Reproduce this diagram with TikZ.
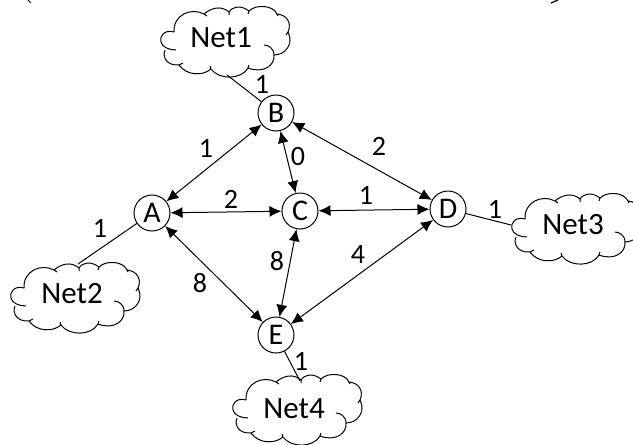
\documentclass[tikz,border=0pt]{standalone}
\usepackage{fontspec}
\setmainfont{Carlito}
\usetikzlibrary{arrows.meta}
\tikzset{
  router/.style={draw=black,circle,line width=1pt,minimum size=36pt,inner sep=0pt,font=\fontsize{30}{32}\selectfont},
  netname/.style={inner sep=0pt,font=\fontsize{31}{34}\selectfont},
  cost/.style={inner sep=0pt,font=\fontsize{28}{30}\selectfont},
  duplex/.style={line width=1pt,{Latex[length=12pt,width=11pt]}-{Latex[length=12pt,width=11pt]}},
  stub/.style={line width=1pt},
  netcloud/.pic={
    \draw[line width=1pt,line join=round]
      (15,45) .. controls (8,45) and (1,42) .. (0,37) .. controls (-2,32) and (3,24) .. (13,27)
      .. controls (12,10) and (30,2) .. (43,9) .. controls (50,3) and (60,0) .. (68,7)
      .. controls (72,1) and (80,0) .. (88,6) .. controls (95,-1) and (112,0) .. (116,9)
      .. controls (126,10) and (131,18) .. (127,27) .. controls (133,38) and (125,50) .. (113,50)
      .. controls (114,60) and (103,69) .. (87,63) .. controls (80,75) and (58,75) .. (50,64)
      .. controls (42,71) and (26,71) .. (18,60) .. controls (6,61) and (1,52) .. (4,45);
    \draw[line width=1pt] (113,50) .. controls (113,43) and (107,40) .. (103,40);
    \draw[line width=1pt] (87,63) -- (88,60) (50,64) -- (49,61) (18,60) -- (22,58)
      (127,27) -- (125,30) (116,9) -- (117,11) (88,6) -- (87,9) (68,7) -- (68,10) (43,9) -- (46,11);
  }
}
\begin{document}
\begin{tikzpicture}[x=1pt,y=-1pt]
\useasboundingbox (0,0) rectangle (633,445);
\clip (0,0) rectangle (633,445);
% fragments at the top edge
\draw[line width=1pt] (28,0) -- (31,3);
\draw[line width=1.2pt] (551,3) -- (558,0);
% clouds
\pic at (161,5) {netcloud};
\pic at (11,261) {netcloud};
\pic at (512,192) {netcloud};
\pic at (233,373) {netcloud};
\node[netname] (net1) at (221,38) {Net1};
\node[netname] (net2) at (72,294) {Net2};
\node[netname] (net3) at (573,225) {Net3};
\node[netname] (net4) at (294,409) {Net4};
\coordinate (p1) at (227,75);
\coordinate (p2) at (78,264);
\coordinate (p3) at (511,225);
\coordinate (p4) at (300,381);
% routers
\node[router] (A) at (152,213) {A};
\node[router] (B) at (276,113) {B};
\node[router] (C) at (300,211) {C};
\node[router] (D) at (448,209) {D};
\node[router] (E) at (276,335) {E};
% links
\draw[duplex] (A) -- (B);
\draw[duplex] (B) -- (C);
\draw[duplex] (B) -- (D);
\draw[duplex] (A) -- (C);
\draw[duplex] (C) -- (D);
\draw[duplex] (A) -- (E);
\draw[duplex] (C) -- (E);
\draw[duplex] (D) -- (E);
\draw[stub] (B) -- (p1);
\draw[stub] (A) -- (p2);
\draw[stub] (D) -- (p3);
\draw[stub] (E) -- (p4);
% costs
\node[cost] (c1) at (262,84) {1};
\node[cost] (c2) at (206,148) {1};
\node[cost] (c3) at (298,157) {0};
\node[cost] (c4) at (231,199) {2};
\node[cost] (c5) at (379,146) {2};
\node[cost] (c6) at (366,195) {1};
\node[cost] (c7) at (495,209) {1};
\node[cost] (c8) at (100,228) {1};
\node[cost] (c9) at (200,283) {8};
\node[cost] (c10) at (277,261) {8};
\node[cost] (c11) at (358,255) {4};
\node[cost] (c12) at (301,361) {1};
\end{tikzpicture}
\end{document}
